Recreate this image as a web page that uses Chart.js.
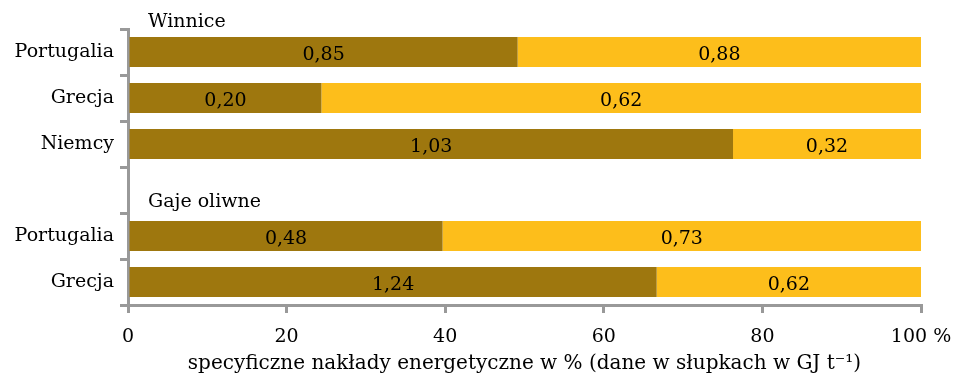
<!DOCTYPE html>
<html>
<head>
<meta charset="utf-8">
<script src="https://cdn.jsdelivr.net/npm/chart.js@4"></script>
<style>
  html, body { margin: 0; padding: 0; background: #fff; }
  #wrap { width: 955px; height: 377px; }
</style>
</head>
<body>
<div id="wrap"><canvas id="myChart" width="955" height="377"></canvas></div>
<script>
//categories on the y axis (empty slot separates the two groups)
const countries = ['Portugalia', 'Grecja', 'Niemcy', '', 'Portugalia', 'Grecja'];
//group titles and the category index they stand above
const groupTitles = ['Winnice', 'Gaje oliwne'];
const groupStart = [0, 4];
//values printed in the bars, GJ t-1
const partA = [0.85, 0.20, 1.03, null, 0.48, 1.24];
const partB = [0.88, 0.62, 0.32, null, 0.73, 0.62];
//x axis ticks
const xTicks = [0, 20, 40, 60, 80, 100];

const FONT = 'DejaVu Serif';
const GREY = '#999999';

//bar lengths are shares of the sum, in %
function share(a, b) {
  return a.map((v, i) => v == null ? null : v / (v + b[i]) * 100);
}
let pctA = share(partA, partB);
let pctB = share(partB, partA);

//write the GJ value in the middle of each segment
const barLabels = {
  id: 'barLabels',
  afterDatasetsDraw(chart) {
    let ctx = chart.ctx;
    let raw = [partA, partB];
    ctx.save();
    ctx.font = '19px "' + FONT + '"';
    ctx.fillStyle = '#000';
    ctx.textAlign = 'center';
    ctx.textBaseline = 'middle';
    chart.data.datasets.forEach((ds, d) => {
      chart.getDatasetMeta(d).data.forEach((bar, i) => {
        if (raw[d][i] == null) return;
        let p = bar.getProps(['x', 'y', 'base'], true);
        ctx.fillText(raw[d][i].toFixed(2).replace('.', ','), (p.x + p.base) / 2, p.y + 3);
      });
    });
    ctx.restore();
  }
};

//group headings above their first row
const groupHeads = {
  id: 'groupHeads',
  afterDraw(chart) {
    let ctx = chart.ctx;
    let y = chart.scales.y;
    let x = chart.scales.x;
    let slot = y.getPixelForValue(1) - y.getPixelForValue(0);
    ctx.save();
    ctx.font = '19px "' + FONT + '"';
    ctx.fillStyle = '#000';
    ctx.textAlign = 'left';
    ctx.textBaseline = 'middle';
    groupTitles.forEach((t, i) => {
      let off = i == 0 ? 0.66 : 0.74;
      ctx.fillText(t, x.getPixelForValue(0) + 20, y.getPixelForValue(groupStart[i]) - slot * off);
    });
    ctx.restore();
  }
};

let ctx = document.getElementById('myChart').getContext('2d');
let chart = new Chart(ctx, {
  type: 'bar',
  data: {
    labels: countries,
    datasets: [
      { data: pctA, backgroundColor: '#9E770E', barPercentage: 0.8, categoryPercentage: 0.82 },
      { data: pctB, backgroundColor: '#FDBE1B', barPercentage: 0.8, categoryPercentage: 0.82 }
    ]
  },
  options: {
    indexAxis: 'y',
    responsive: false,
    animation: false,
    layout: { padding: { top: 29, right: 34, left: 0, bottom: 0 } },
    plugins: { legend: { display: false }, tooltip: { enabled: false } },
    scales: {
      x: {
        stacked: true,
        min: 0,
        max: 100,
        afterBuildTicks: s => { s.ticks = xTicks.map(v => ({ value: v })); },
        afterFit: s => { s.height = 72; s.paddingRight = 0; s.paddingLeft = 0; },
        border: { color: GREY, width: 3 },
        grid: { drawOnChartArea: false, drawTicks: true, tickLength: 8, color: GREY, lineWidth: 3 },
        ticks: {
          color: '#000',
          padding: 13,
          maxRotation: 0,
          font: { family: FONT, size: 19 },
          callback: v => v == 100 ? '100 %' : v
        },
        title: {
          display: true,
          text: 'specyficzne nakłady energetyczne w % (dane w słupkach w GJ t⁻¹)',
          color: '#000',
          font: { family: FONT, size: 20 },
          padding: { top: 0, bottom: 1 }
        }
      },
      y: {
        stacked: true,
        afterFit: s => { s.width = 128; },
        border: { color: GREY, width: 3 },
        grid: { drawOnChartArea: false, drawTicks: true, tickLength: 8, color: GREY, lineWidth: 3, offset: true },
        ticks: {
          color: '#000',
          padding: 6,
          font: { family: FONT, size: 19 }
        }
      }
    }
  },
  plugins: [barLabels, groupHeads]
});
</script>
</body>
</html>
